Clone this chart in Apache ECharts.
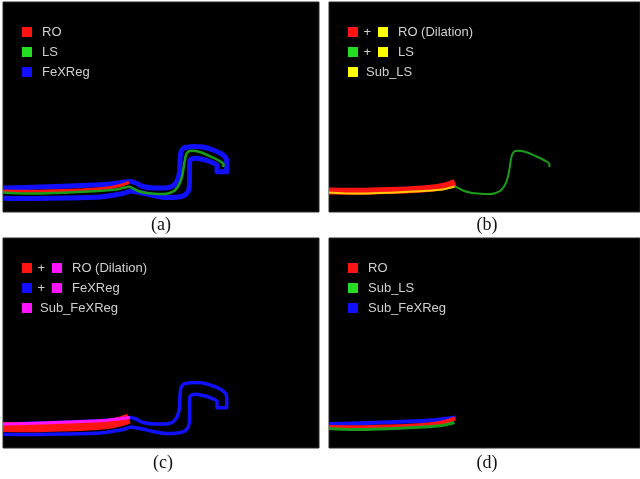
<!DOCTYPE html>
<html><head><meta charset="utf-8">
<script src="https://cdn.jsdelivr.net/npm/echarts@6/dist/echarts.min.js"></script>
<style>html,body{margin:0;padding:0;background:#fff}#c{width:640px;height:479px}</style>
</head><body><div id="c"></div>
<script>
// ---- data (panel-local image coordinates, x right, y down) ----
const LS = [[0,190.5],[15,191.3],[30,191.5],[50,191],[70,190.3],[90,189.3],[105,188.3],[116,187],[122,185.5],[125.5,184.5],[129,185.8],[134,188.5],[142,190.8],[152,191.8],[160,192],[166,191.2],[171,189],[175,184.5],[178,178],[180,170],[181.5,160],[183,153],[185,149.7],[189,148.8],[196,149.8],[204,152.8],[212,156.5],[217.5,159.5],[220.5,162],[220.3,165]];
const RO = [[0,189],[30,189.3],[60,188.6],[90,187.3],[108,185.5],[118,183.3],[126,180.5]];
const FeXReg = [[0,186],[30,185.3],[60,184.3],[97,182.7],[115,181],[127,179.5],[133,181],[140,184.5],[152,186],[163,186],[170,184],[174,179],[176.5,170],[177,158],[178,149.5],[181,145.8],[190,144.5],[200,145],[210,148],[218,151.5],[222.5,155.5],[223.7,160],[223.7,169.7],[214,169.7],[214,163],[208,160],[200,157.5],[192,156.3],[187.5,157.5],[186.5,165],[186.5,180],[185.5,188.5],[182,193],[175,195],[163,195.5],[150,193.5],[142,191.5],[134,190],[128,189],[120,191.5],[97,195],[60,196],[30,196.5],[0,196.3]];
const SUB_CUTOFF_X = 127;
const captions = ['(a)','(b)','(c)','(d)'];
const legendA = ['RO','LS','FeXReg'];
const legendB = ['RO (Dilation)','LS','Sub_LS'];
const legendC = ['RO (Dilation)','FeXReg','Sub_FeXReg'];
const legendD = ['RO','Sub_LS','Sub_FeXReg'];

function prefixUpTo(arr, xmax){ const out=[]; for(const p of arr){ if(p[0]>xmax) break; out.push(p);} return out; }
const SubLS = prefixUpTo(LS, SUB_CUTOFF_X);
const SubFeXReg = prefixUpTo(FeXReg, SUB_CUTOFF_X);

// ---- styles / layout ----
const C = {red:'#ff1414', greenLine:'#1a9e1a', greenKey:'#22dd22', blue:'#1010ff', yellow:'#ffff00', yellowLine:'#ffc800', magenta:'#ff14ff'};
const panels = [
  {left:3, top:2, width:316, height:210},
  {left:329, top:2, width:311, height:210},
  {left:3, top:238, width:316, height:210},
  {left:329, top:238, width:311, height:210}
];
const capPos = [[161,225],[487,225],[163,463],[487,463]];

const grid = panels.map(p => ({left:p.left, top:p.top, width:p.width, height:p.height, show:true, backgroundColor:'#000', borderColor:'#2a2a2a', borderWidth:1}));
const xAxis = panels.map((p,i) => ({type:'value', gridIndex:i, min:0, max:p.width, show:false}));
const yAxis = panels.map((p,i) => ({type:'value', gridIndex:i, min:0, max:p.height, inverse:true, show:false}));

function line(gi, data, color, width, z){
  return {type:'line', xAxisIndex:gi, yAxisIndex:gi, data:data, showSymbol:false, symbol:'none', smooth:0.15,
    lineStyle:{color:color, width:width, cap:'butt', join:'round'}, z:z, silent:true, animation:false};
}
const series = [
  // (a)
  line(0, FeXReg, C.blue, 5, 2), line(0, RO, C.red, 3, 3), line(0, LS, C.greenLine, 2.5, 4),
  // (b)
  line(1, LS, C.greenLine, 2, 2), line(1, RO, C.red, 7, 3), line(1, SubLS, C.yellowLine, 2, 4),
  // (c)
  line(2, FeXReg, C.blue, 3.5, 2), line(2, RO, C.red, 10, 3), line(2, SubFeXReg, C.magenta, 3, 4),
  // (d)
  line(3, SubFeXReg, C.blue, 4, 2), line(3, RO, C.red, 4, 3), line(3, SubLS, C.greenLine, 3, 4)
];

// ---- legends (graphic) ----
const rowsY = [30, 50, 70];
const txtStyle = {fill:'#d0d0d0', font:'13px "Liberation Sans", Arial, sans-serif', textVerticalAlign:'middle'};
const graphic = [];
function sq(x, y, color){ graphic.push({type:'rect', shape:{x:x, y:y-5, width:10, height:10}, style:{fill:color}, silent:true}); }
function tx(x, y, s){ graphic.push({type:'text', x:x, y:y, style:Object.assign({text:s}, txtStyle), silent:true}); }
function simpleLegend(pi, labels, colors){
  const p = panels[pi];
  labels.forEach((lab,k) => { const y = p.top + rowsY[k]; sq(p.left+19, y, colors[k]); tx(p.left+39, y, lab); });
}
function compoundLegend(pi, labels, firstColors, subColor){
  const p = panels[pi];
  labels.forEach((lab,k) => {
    const y = p.top + rowsY[k];
    if (k < 2) { sq(p.left+19, y, firstColors[k]); tx(p.left+34.5, y, '+'); sq(p.left+49, y, subColor); tx(p.left+69, y, lab); }
    else { sq(p.left+19, y, subColor); tx(p.left+37, y, lab); }
  });
}
simpleLegend(0, legendA, [C.red, C.greenKey, C.blue]);
compoundLegend(1, legendB, [C.red, C.greenKey], C.yellow);
compoundLegend(2, legendC, [C.red, C.blue], C.magenta);
simpleLegend(3, legendD, [C.red, C.greenKey, C.blue]);
captions.forEach((c,i) => graphic.push({type:'text', x:capPos[i][0], y:capPos[i][1], silent:true,
  style:{text:c, fill:'#111', font:'18px "Liberation Serif", "Times New Roman", serif', textAlign:'center', textVerticalAlign:'middle'}}));

const chart = echarts.init(document.getElementById('c'), null, {renderer:'canvas'});
chart.setOption({backgroundColor:'#fff', animation:false, grid, xAxis, yAxis, series, graphic});
</script></body></html>
